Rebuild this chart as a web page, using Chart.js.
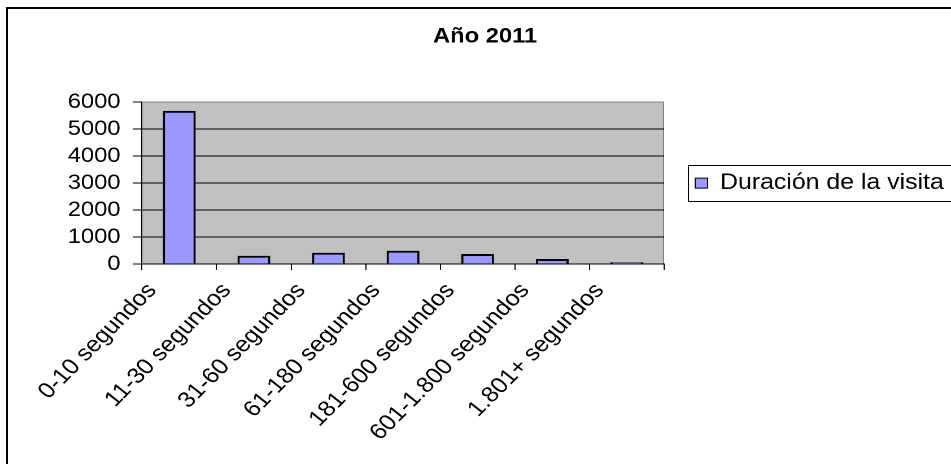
<!DOCTYPE html>
<html lang="es">
<head>
<meta charset="utf-8">
<title>Año 2011</title>
<script src="https://cdn.jsdelivr.net/npm/chart.js@4.4.1/dist/chart.umd.min.js"></script>
<style>
  html, body { margin: 0; padding: 0; background: #fff; overflow: hidden; }
  #marco { position: absolute; left: 6px; top: 7px; width: 1200px; height: 800px; border: 2px solid #000; }
  #grafica { position: absolute; left: 0; top: 0; }
</style>
</head>
<body>
<div id="marco"></div>
<!-- el lienzo se estira en horizontal como la imagen original -->
<canvas id="grafica" width="842" height="464" style="width:951px;height:464px"></canvas>
<script>
const titulo = 'Año 2011'
const nombreSerie = 'Duración de la visita'
const categorias = ['0-10 segundos', '11-30 segundos', '31-60 segundos', '61-180 segundos', '181-600 segundos', '601-1.800 segundos', '1.801+ segundos']
const visitas = [5680, 307, 419, 493, 370, 185, 63]
const ticksY = [0, 1000, 2000, 3000, 4000, 5000, 6000]

const fuente = 'Liberation Sans, Arial, sans-serif'
Chart.defaults.font.family = fuente
Chart.defaults.color = '#000'

// fondo gris del área de trazado y recuadro de la leyenda
const adornos = {
    id: 'adornos',
    beforeDraw(chart) {
        const {ctx, chartArea: {left, top, right, bottom}} = chart
        ctx.save()
        ctx.fillStyle = '#c0c0c0'
        ctx.fillRect(left, top, right - left, bottom - top)
        ctx.strokeStyle = '#808080'
        ctx.lineWidth = 1
        ctx.beginPath()
        ctx.moveTo(right - 0.5, top)
        ctx.lineTo(right - 0.5, bottom)
        ctx.stroke()
        ctx.restore()
    },
    afterDraw(chart) {
        const caja = chart.legend && chart.legend.legendHitBoxes[0]
        if (!caja) return
        const ctx = chart.ctx
        const medio = caja.top + caja.height / 2
        ctx.save()
        ctx.strokeStyle = '#000'
        ctx.lineWidth = 1
        ctx.strokeRect(Math.round(caja.left - 7) + 0.5, Math.round(medio - 18) + 0.5, 400, 36)
        ctx.restore()
    }
}

const duracionChart = () => {
    const lienzo = document.querySelector('#grafica')

    new Chart(lienzo, {
        type: 'bar',
        data: {
            labels: categorias,
            datasets: [{
                label: nombreSerie,
                data: visitas,
                backgroundColor: '#9999ff',
                borderColor: '#000',
                borderWidth: 2,
                barPercentage: 0.44,
                categoryPercentage: 1
            }]
        },
        options: {
            responsive: false,
            devicePixelRatio: 2,
            animation: false,
            layout: { padding: { left: 17, right: 0, top: 0, bottom: 0 } },
            plugins: {
                tooltip: { enabled: false },
                title: {
                    display: true,
                    text: titulo,
                    color: '#000',
                    font: { family: fuente, size: 21, weight: 'bold' },
                    padding: { top: 24, bottom: 53 }
                },
                legend: {
                    position: 'right',
                    align: 'center',
                    fullSize: false,
                    maxWidth: 254,
                    labels: {
                        boxWidth: 11,
                        boxHeight: 10,
                        padding: 27.5,
                        color: '#000',
                        font: { family: fuente, size: 22 },
                        generateLabels: chart => Chart.defaults.plugins.legend.labels.generateLabels(chart)
                            .map(l => ({ ...l, lineWidth: 1 }))
                    }
                }
            },
            scales: {
                x: {
                    offset: true,
                    grid: {
                        display: true,
                        drawOnChartArea: false,
                        drawTicks: true,
                        tickLength: 6,
                        color: '#000',
                        offset: true
                    },
                    border: { color: '#000', width: 1 },
                    ticks: {
                        autoSkip: false,
                        // 48.5° en el lienzo = 45° una vez estirado
                        minRotation: 48.5,
                        maxRotation: 48.5,
                        padding: 8,
                        labelOffset: -24,
                        font: { size: 22 }
                    },
                    afterFit: s => { s.height = 200 }
                },
                y: {
                    min: ticksY[0],
                    max: ticksY[ticksY.length - 1],
                    grid: {
                        color: c => (c.tick && c.tick.value === 6000) ? '#808080' : '#000',
                        tickColor: '#000',
                        tickLength: 8,
                        lineWidth: 1
                    },
                    border: { color: '#000', width: 1 },
                    ticks: {
                        autoSkip: false,
                        padding: 11,
                        font: { size: 21 },
                        callback: v => String(v)
                    },
                    afterBuildTicks: s => { s.ticks = ticksY.map(v => ({ value: v })) },
                    afterFit: s => { s.width = 108.7 }
                }
            }
        },
        plugins: [adornos]
    })
}

duracionChart()
</script>
</body>
</html>
